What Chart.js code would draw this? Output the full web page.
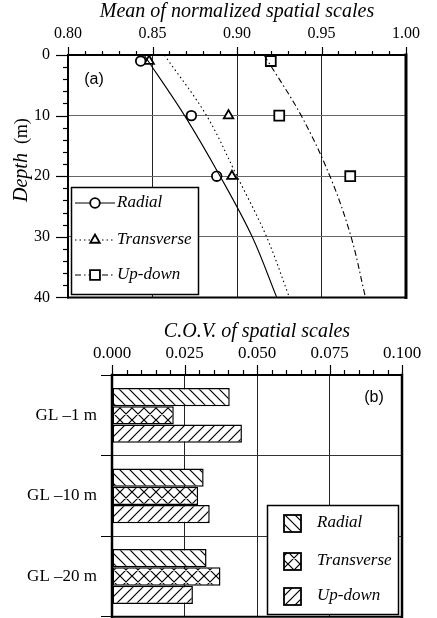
<!DOCTYPE html>
<html><head><meta charset="utf-8">
<script src="https://cdn.jsdelivr.net/npm/chart.js@4/dist/chart.umd.min.js"></script>
<style>
html,body{margin:0;padding:0;background:#fff;}
#wrap{position:relative;width:437px;height:618px;overflow:hidden;}
#c1{position:absolute;left:0;top:0;}
#c2{position:absolute;left:0;top:300px;}
</style></head><body>
<div id="wrap"><canvas id="c1" width="437" height="325"></canvas><canvas id="c2" width="437" height="331"></canvas></div>
<script>
// ---------- Panel (a): mean of normalized spatial scales ----------
const obsDepths = [1, 10, 20];
const radialMean = [0.843, 0.873, 0.888];
const transverseMean = [0.848, 0.895, 0.897];
const updownMean = [0.920, 0.925, 0.967];
const fitDepths = [0, 10, 20, 30, 40];
const radialFit = [0.845, 0.869, 0.890, 0.909, 0.9235];
const transverseFit = [0.857, 0.882, 0.900, 0.9175, 0.931];
const updownFit = [0.916, 0.938, 0.955, 0.9675, 0.976];
const meanTicks = [0.80, 0.85, 0.90, 0.95, 1.00];
const depthTicks = [0, 10, 20, 30, 40];
// ---------- Panel (b): C.O.V. of spatial scales ----------
const levels = ['GL \u20131 m', 'GL \u201310 m', 'GL \u201320 m'];
const radialCov = [0.0406, 0.0316, 0.0326];
const transverseCov = [0.0213, 0.0297, 0.0374];
const updownCov = [0.0448, 0.0337, 0.0279];
const covTicks = [0, 0.025, 0.050, 0.075, 0.100];
const seriesNames = ['Radial', 'Transverse', 'Up-down'];

const serif = '"Liberation Serif","Times New Roman",serif';
const sans = '"Liberation Sans",Arial,sans-serif';

function hatch(kind, s) {
  const c = document.createElement('canvas'); c.width = s; c.height = s;
  const g = c.getContext('2d');
  g.fillStyle = '#fff'; g.fillRect(0, 0, s, s);
  g.strokeStyle = '#000'; g.lineWidth = 1.2; g.beginPath();
  if (kind === 'back' || kind === 'cross') {
    g.moveTo(-1, -1); g.lineTo(s + 1, s + 1);
    g.moveTo(-1, s - 1); g.lineTo(1, s + 1);
    g.moveTo(s - 1, -1); g.lineTo(s + 1, 1);
  }
  if (kind === 'slash' || kind === 'cross') {
    g.moveTo(-1, s + 1); g.lineTo(s + 1, -1);
    g.moveTo(-1, 1); g.lineTo(1, -1);
    g.moveTo(s - 1, s + 1); g.lineTo(s + 1, s - 1);
  }
  g.stroke();
  return g.createPattern(c, 'repeat');
}

const tickMarks = {
  id: 'tickMarks',
  afterDraw(chart, args, opts) {
    const ctx = chart.ctx, a = chart.chartArea;
    ctx.save(); ctx.strokeStyle = '#000'; ctx.lineWidth = 1.2;
    (opts.axes || []).forEach(ax => {
      const s = chart.scales[ax.id];
      const n = Math.round((s.max - s.min) / ax.step);
      for (let i = 0; i <= n; i++) {
        const v = s.min + i * ax.step;
        const major = ax.major.some(m => Math.abs(m - v) < ax.step / 10);
        const len = major ? ax.majLen : ax.minLen;
        const p = Math.round(s.getPixelForValue(v)) + 0.5;
        ctx.beginPath();
        if (ax.dir === 'top') { ctx.moveTo(p, a.top); ctx.lineTo(p, a.top - len); }
        else { ctx.moveTo(a.left, p); ctx.lineTo(a.left - len, p); }
        ctx.stroke();
      }
    });
    ctx.restore();
  }
};

const frame = {
  id: 'frame',
  afterDraw(chart, args, o) {
    const ctx = chart.ctx, a = chart.chartArea;
    ctx.save(); ctx.strokeStyle = '#000'; ctx.lineCap = 'square';
    const seg = (w, x1, y1, x2, y2) => { ctx.lineWidth = w; ctx.beginPath(); ctx.moveTo(x1, y1); ctx.lineTo(x2, y2); ctx.stroke(); };
    seg(o.top, a.left, a.top, a.right, a.top);
    seg(o.bottom, a.left, a.bottom, a.right, a.bottom);
    seg(o.left, a.left, a.top, a.left, a.bottom);
    seg(o.right, a.right, a.top, a.right, a.bottom);
    ctx.restore();
  }
};

const extras1 = {
  id: 'extras1',
  afterDraw(chart) {
    const ctx = chart.ctx;
    ctx.save();
    ctx.fillStyle = '#000'; ctx.font = '16px ' + sans; ctx.textAlign = 'center'; ctx.textBaseline = 'middle';
    ctx.fillText('(a)', 94, 80);
    ctx.translate(27, 202); ctx.rotate(-Math.PI / 2);
    ctx.textAlign = 'left'; ctx.textBaseline = 'alphabetic';
    ctx.font = 'italic 20px ' + serif; ctx.fillText('Depth', 0, 0);
    const w = ctx.measureText('Depth').width;
    ctx.font = '18px ' + serif; ctx.fillText('(m)', w + 9, 0);
    ctx.restore();
    // legend
    ctx.save();
    const L = 71, T = 187, R = 198, B = 294;
    ctx.fillStyle = '#fff'; ctx.fillRect(L, T, R - L, B - T);
    ctx.strokeStyle = '#000'; ctx.lineWidth = 1.5; ctx.strokeRect(L + 0.5, T + 0.5, R - L, B - T);
    const ys = [203, 240, 275];
    const lineSets = chart.data.datasets.slice(0, 3), markSets = chart.data.datasets.slice(3, 6);
    for (let i = 0; i < 3; i++) {
      const y = ys[i];
      ctx.save();
      ctx.strokeStyle = '#000'; ctx.lineWidth = 1.1;
      ctx.setLineDash(lineSets[i].borderDash || []);
      ctx.beginPath(); ctx.moveTo(75, y); ctx.lineTo(115, y); ctx.stroke();
      ctx.restore();
      const m = markSets[i];
      ctx.save();
      ctx.fillStyle = '#fff'; ctx.strokeStyle = '#000'; ctx.lineWidth = m.pointBorderWidth;
      Chart.helpers.drawPoint(ctx, { pointStyle: m.pointStyle, radius: m.pointRadius, borderWidth: m.pointBorderWidth, rotation: 0 }, 95, y);
      ctx.restore();
      ctx.fillStyle = '#000'; ctx.font = 'italic 17px ' + serif; ctx.textAlign = 'left'; ctx.textBaseline = 'middle';
      ctx.fillText(seriesNames[i], 117, y);
    }
    ctx.restore();
  }
};

const lineDs = (vals, dash, name) => ({
  label: name, data: fitDepths.map((d, i) => ({ x: vals[i], y: d })),
  showLine: true, borderColor: '#000', borderWidth: 1.1, borderDash: dash,
  pointRadius: 0, tension: 0.35, fill: false
});
const markDs = (vals, style, r, name) => ({
  label: name, data: obsDepths.map((d, i) => ({ x: vals[i], y: d })),
  showLine: false, pointStyle: style, pointRadius: r, pointBorderColor: '#000',
  pointBackgroundColor: '#fff', pointBorderWidth: 1.8, borderWidth: 1.8
});

new Chart(document.getElementById('c1'), {
  type: 'scatter',
  data: { datasets: [
    lineDs(radialFit, [], 'Radial fit'),
    lineDs(transverseFit, [1.5, 3], 'Transverse fit'),
    lineDs(updownFit, [6, 3, 1.5, 3], 'Up-down fit'),
    markDs(radialMean, 'circle', 4.8, 'Radial'),
    markDs(transverseMean, 'triangle', 5.5, 'Transverse'),
    markDs(updownMean, 'rect', 7, 'Up-down')
  ]},
  options: {
    responsive: false, animation: false, devicePixelRatio: 1,
    layout: { padding: { left: 0, right: 31, top: 0, bottom: 0 } },
    plugins: {
      legend: { display: false }, tooltip: { enabled: false },
      frame: { left: 2, top: 2, right: 3, bottom: 2 },
      tickMarks: { axes: [
        { id: 'x', step: 0.01, major: meanTicks, majLen: 8, minLen: 4, dir: 'top' },
        { id: 'y', step: 2, major: depthTicks, majLen: 12, minLen: 5, dir: 'left' }
      ]}
    },
    scales: {
      x: {
        type: 'linear', position: 'top', min: 0.8, max: 1.0,
        afterBuildTicks: s => { s.ticks = meanTicks.map(v => ({ value: v })); },
        ticks: { font: { family: serif, size: 16 }, color: '#000', padding: 12, maxRotation: 0, autoSkip: false, callback: v => v.toFixed(2) },
        grid: { drawTicks: false, lineWidth: 1, color: '#222' },
        border: { display: false },
        title: { display: true, text: 'Mean of normalized spatial scales', color: '#000', font: { family: serif, size: 20, style: 'italic' }, padding: { top: 0, bottom: 0 } },
        afterFit: s => { s.height = 55; }
      },
      y: {
        type: 'linear', reverse: true, min: 0, max: 40,
        afterBuildTicks: s => { s.ticks = depthTicks.map(v => ({ value: v })); },
        ticks: { font: { family: serif, size: 16 }, color: '#000', padding: 18, autoSkip: false },
        grid: { drawTicks: false, lineWidth: 1, color: '#666' },
        border: { display: false },
        afterFit: s => { s.width = 68; }
      }
    }
  },
  plugins: [frame, tickMarks, extras1]
});

// ---------- Panel (b) ----------
const patBack = hatch('back', 10), patCross = hatch('cross', 12), patSlash = hatch('slash', 10);
const patterns = [patBack, patCross, patSlash];

const extras2 = {
  id: 'extras2',
  afterDraw(chart) {
    const ctx = chart.ctx;
    ctx.save();
    ctx.fillStyle = '#000'; ctx.font = '16px ' + sans; ctx.textAlign = 'center'; ctx.textBaseline = 'middle';
    ctx.fillText('(b)', 374, 98);
    const L = 267, T = 205, R = 398, B = 314;
    ctx.fillStyle = '#fff'; ctx.fillRect(L, T, R - L, B - T);
    ctx.strokeStyle = '#000'; ctx.lineWidth = 1.5; ctx.strokeRect(L + 0.5, T + 0.5, R - L, B - T);
    const ys = [223, 261, 296];
    for (let i = 0; i < 3; i++) {
      const y = ys[i];
      ctx.fillStyle = patterns[i]; ctx.fillRect(284, y - 8, 17, 17);
      ctx.lineWidth = 1.8; ctx.strokeStyle = '#000'; ctx.strokeRect(284, y - 8, 17, 17);
      ctx.fillStyle = '#000'; ctx.font = 'italic 17px ' + serif; ctx.textAlign = 'left'; ctx.textBaseline = 'middle';
      ctx.fillText(seriesNames[i], 317, y);
    }
    ctx.restore();
  }
};

new Chart(document.getElementById('c2'), {
  type: 'bar',
  data: {
    labels: levels,
    datasets: [
      { label: 'Radial', data: radialCov, backgroundColor: patBack, borderColor: '#000', borderWidth: 1.5, borderSkipped: false },
      { label: 'Transverse', data: transverseCov, backgroundColor: patCross, borderColor: '#000', borderWidth: 1.5, borderSkipped: false },
      { label: 'Up-down', data: updownCov, backgroundColor: patSlash, borderColor: '#000', borderWidth: 1.5, borderSkipped: false }
    ]
  },
  options: {
    indexAxis: 'y', responsive: false, animation: false, devicePixelRatio: 1,
    barPercentage: 1.0, categoryPercentage: 0.68,
    layout: { padding: { left: 0, right: 35, top: 0, bottom: 0 } },
    plugins: {
      legend: { display: false }, tooltip: { enabled: false },
      frame: { left: 2.5, top: 2, right: 2.5, bottom: 2 },
      tickMarks: { axes: [ { id: 'x', step: 0.005, major: covTicks, majLen: 10, minLen: 5, dir: 'top' } ] }
    },
    scales: {
      x: {
        type: 'linear', position: 'top', min: 0, max: 0.1,
        afterBuildTicks: s => { s.ticks = covTicks.map(v => ({ value: v })); },
        ticks: { font: { family: serif, size: 17 }, color: '#000', padding: 11, maxRotation: 0, autoSkip: false, callback: v => v.toFixed(3) },
        grid: { drawTicks: false, lineWidth: 1, color: '#222' },
        border: { display: false },
        title: { display: true, text: 'C.O.V. of spatial scales', color: '#000', font: { family: serif, size: 20, style: 'italic' }, padding: { top: 20, bottom: 0 } },
        afterFit: s => { s.height = 75; }
      },
      y: {
        type: 'category',
        ticks: { font: { family: serif, size: 17 }, color: '#000', padding: 4 },
        grid: { offset: true, drawTicks: true, tickLength: 11, lineWidth: 1, color: '#333', tickColor: '#000' },
        border: { display: false },
        afterFit: s => { s.width = 112; }
      }
    }
  },
  plugins: [frame, tickMarks, extras2]
});
</script>
</body></html>
